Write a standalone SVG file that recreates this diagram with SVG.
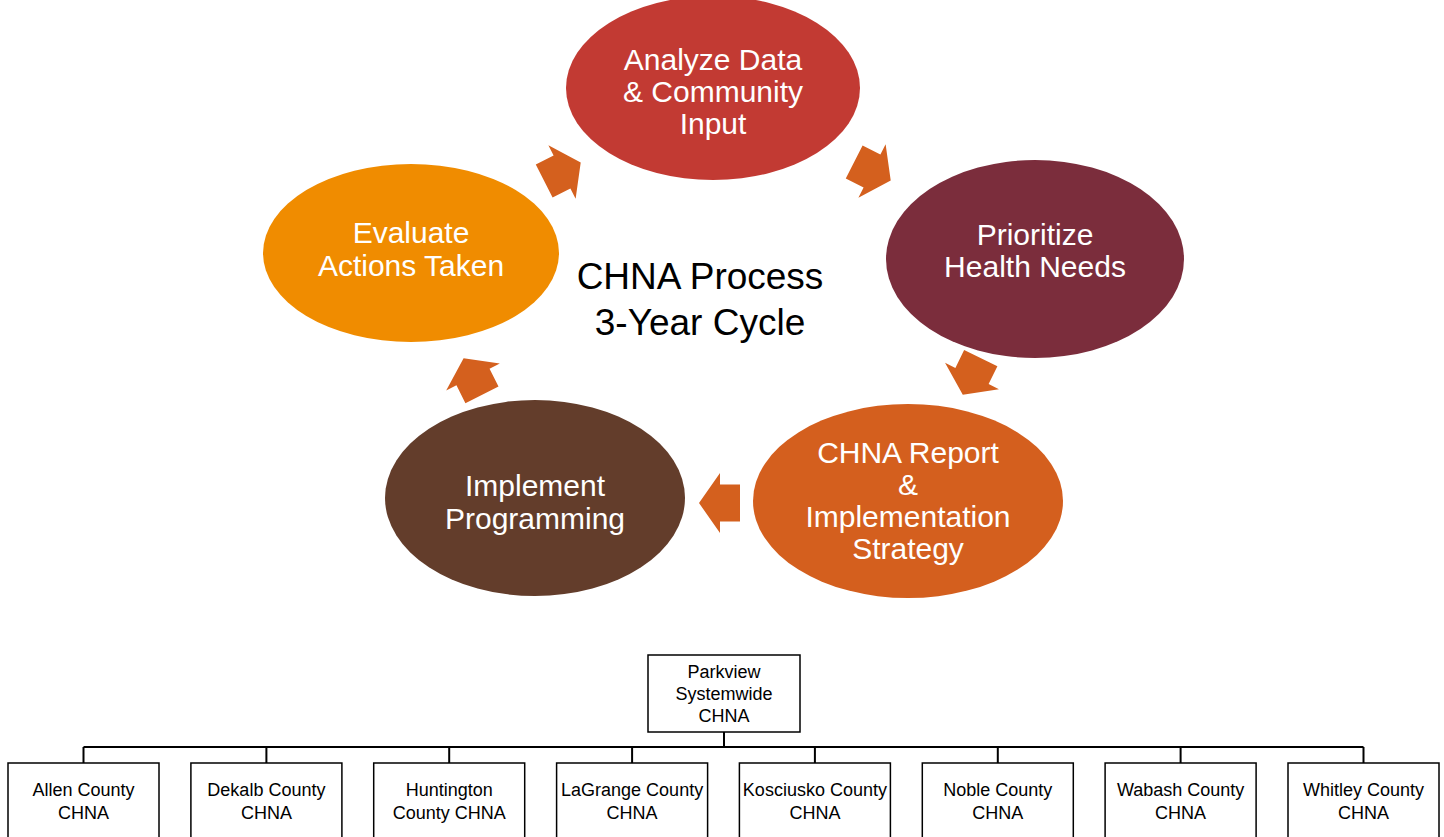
<svg xmlns="http://www.w3.org/2000/svg" width="1444" height="837" viewBox="0 0 1444 837">
<style>
.el{font-family:"Liberation Sans",Arial,sans-serif;font-size:30px;fill:#fff;text-anchor:middle}
.ct{font-family:"Liberation Sans",Arial,sans-serif;font-size:37px;fill:#000;text-anchor:middle}
.bx{fill:#fff;stroke:#000;stroke-width:1.5}
.bt{font-family:"Liberation Sans",Arial,sans-serif;font-size:18px;fill:#000;text-anchor:middle}
.ln{fill:none;stroke:#000;stroke-width:2}
.ar{fill:#D4601E}
</style>
<defs>
<path id="arr" d="M-20,-18.5 L0,-18.5 L0,-30 L21,0 L0,30 L0,18.5 L-20,18.5 Z"/>
</defs>
<rect width="1444" height="837" fill="#fff"/>
<g id="cycle-arrows">
<use href="#arr" class="ar" transform="translate(562,172) rotate(-27)"/>
<use href="#arr" class="ar" transform="translate(872,171) rotate(27)"/>
<use href="#arr" class="ar" transform="translate(972,376) rotate(116)"/>
<use href="#arr" class="ar" transform="translate(720,503) rotate(180)"/>
<use href="#arr" class="ar" transform="translate(473,377) rotate(243.4)"/>
</g>
<g id="analyze">
<ellipse cx="713" cy="88" rx="147" ry="92" fill="#C23A33"/>
<text class="el" x="713" y="70">Analyze Data</text>
<text class="el" x="713" y="102">&amp; Community</text>
<text class="el" x="713" y="134">Input</text>
</g>
<g id="prioritize">
<ellipse cx="1035" cy="259" rx="149" ry="99" fill="#7B2D3C"/>
<text class="el" x="1035" y="245">Prioritize</text>
<text class="el" x="1035" y="277">Health Needs</text>
</g>
<g id="report">
<ellipse cx="908" cy="501" rx="155" ry="97" fill="#D45F1E"/>
<text class="el" x="908" y="463">CHNA Report</text>
<text class="el" x="908" y="495">&amp;</text>
<text class="el" x="908" y="527">Implementation</text>
<text class="el" x="908" y="559">Strategy</text>
</g>
<g id="implement">
<ellipse cx="535" cy="498" rx="150" ry="98" fill="#633D2B"/>
<text class="el" x="535" y="496">Implement</text>
<text class="el" x="535" y="529">Programming</text>
</g>
<g id="evaluate">
<ellipse cx="411" cy="253" rx="148" ry="89" fill="#F08C00"/>
<text class="el" x="411" y="243">Evaluate</text>
<text class="el" x="411" y="276">Actions Taken</text>
</g>
<g id="center-title">
<text class="ct" x="700" y="289">CHNA Process</text>
<text class="ct" x="700" y="335">3-Year Cycle</text>
</g>
<g id="tree-lines">
<path class="ln" d="M724,732 V747 M83.5,747 H1363.5 M83.5,747 V763 M266.4,747 V763 M449.2,747 V763 M632.1,747 V763 M814.9,747 V763 M997.8,747 V763 M1180.6,747 V763 M1363.5,747 V763"/>
</g>
<g id="parkview">
<rect class="bx" x="648" y="655" width="152" height="77"/>
<text class="bt" x="724" y="678">Parkview</text>
<text class="bt" x="724" y="700">Systemwide</text>
<text class="bt" x="724" y="722">CHNA</text>
</g>
<g id="allen">
<rect class="bx" x="8" y="763" width="151" height="100"/>
<text class="bt" x="83.5" y="796">Allen County</text>
<text class="bt" x="83.5" y="819">CHNA</text>
</g>
<g id="dekalb">
<rect class="bx" x="190.9" y="763" width="151" height="100"/>
<text class="bt" x="266.4" y="796">Dekalb County</text>
<text class="bt" x="266.4" y="819">CHNA</text>
</g>
<g id="huntington">
<rect class="bx" x="373.7" y="763" width="151" height="100"/>
<text class="bt" x="449.2" y="796">Huntington</text>
<text class="bt" x="449.2" y="819">County CHNA</text>
</g>
<g id="lagrange">
<rect class="bx" x="556.6" y="763" width="151" height="100"/>
<text class="bt" x="632.1" y="796">LaGrange County</text>
<text class="bt" x="632.1" y="819">CHNA</text>
</g>
<g id="kosciusko">
<rect class="bx" x="739.4" y="763" width="151" height="100"/>
<text class="bt" x="814.9" y="796">Kosciusko County</text>
<text class="bt" x="814.9" y="819">CHNA</text>
</g>
<g id="noble">
<rect class="bx" x="922.3" y="763" width="151" height="100"/>
<text class="bt" x="997.8" y="796">Noble County</text>
<text class="bt" x="997.8" y="819">CHNA</text>
</g>
<g id="wabash">
<rect class="bx" x="1105.1" y="763" width="151" height="100"/>
<text class="bt" x="1180.6" y="796">Wabash County</text>
<text class="bt" x="1180.6" y="819">CHNA</text>
</g>
<g id="whitley">
<rect class="bx" x="1288" y="763" width="151" height="100"/>
<text class="bt" x="1363.5" y="796">Whitley County</text>
<text class="bt" x="1363.5" y="819">CHNA</text>
</g>
</svg>
